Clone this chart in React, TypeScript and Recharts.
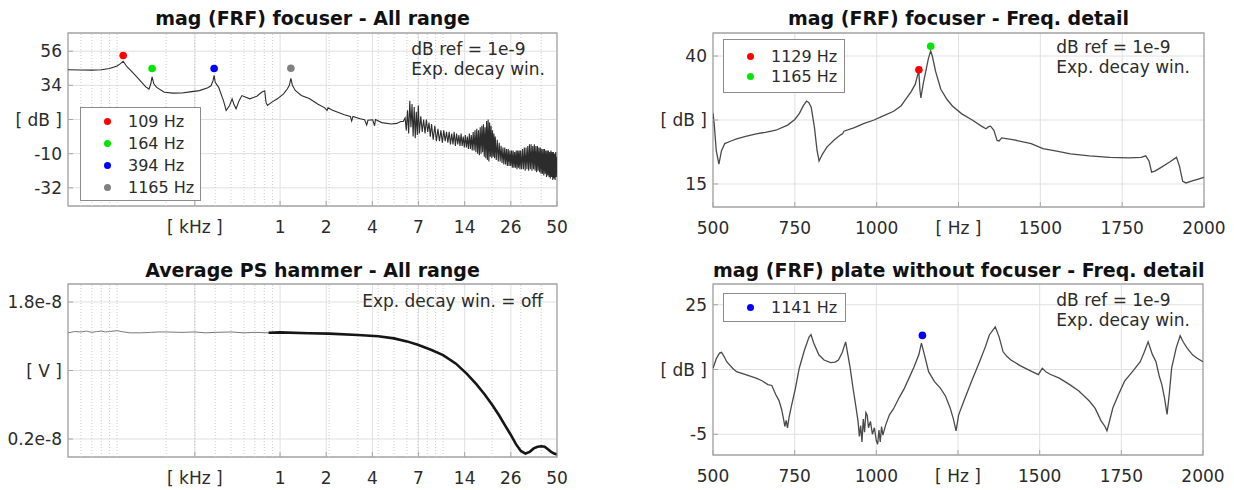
import React from "react";
import {
  CartesianGrid,
  Line,
  LineChart,
  ReferenceArea,
  ReferenceDot,
  ReferenceLine,
  XAxis,
  YAxis,
} from "recharts";

const FONT = '"DejaVu Sans", "Liberation Sans", Arial, sans-serif';
const GRID = "#e0e0e0";
const MINOR = "#cccccc";
const FRAME = "#a6a6a6";
const TEXT = "#2b2b2b";

// log frequency axis (kHz), used by both "All range" panels
const kHzDomain: [number, number] = [0.05, 50];
const kHzTicks = [0.3, 1, 1.919, 3.684, 7.071, 13.57, 26.05, 50];
const kHzLabels = ["[ kHz ]", "1", "2", "4", "7", "14", "26", "50"];
const kHzMinor = [
  0.06, 0.07, 0.08, 0.09, 0.1, 0.2, 0.3, 0.4, 0.5, 0.6, 0.7, 0.8, 0.9,
  2, 3, 4, 5, 6, 7, 8, 9, 10, 20, 30, 40,
];

// linear detail axis (Hz)
const hzDomain: [number, number] = [500, 2000];
const hzTicks = [500, 750, 1000, 1250, 1500, 1750, 2000];
const hzLabels = ["500", "750", "1000", "[ Hz ]", "1500", "1750", "2000"];

// --- mag (FRF) focuser - All range
const tlFreq = [
  0.05, 0.06, 0.07, 0.08, 0.09, 0.1, 0.105, 0.109, 0.115, 0.125, 0.139, 0.15,
  0.157, 0.161, 0.164, 0.168, 0.175, 0.195, 0.22, 0.25, 0.28, 0.32, 0.36, 0.377,
  0.388, 0.394, 0.4, 0.42, 0.45, 0.467, 0.49, 0.508, 0.52, 0.537, 0.56, 0.583,
  0.652, 0.72, 0.771, 0.805, 0.82, 0.837, 0.9, 0.963, 1.05, 1.107, 1.14, 1.165,
  1.19, 1.24, 1.35, 1.51, 1.7, 1.88, 1.94, 1.97, 2.1, 2.48, 2.7, 2.75, 2.8, 3.1,
  3.3, 3.4, 3.46, 3.7, 3.8, 3.85, 4.2, 4.8, 5.2, 5.5,
  5.7, 5.85, 5.95, 6.05, 6.15, 6.25, 6.35, 6.45, 6.55, 6.65, 6.75, 6.85, 6.95,
  7.05, 7.15, 7.3, 7.45, 7.6, 7.75, 7.9, 8.05, 8.2, 8.35, 8.5, 8.7, 8.9, 9.1,
  9.3, 9.5, 9.7, 9.9, 10.1, 10.3, 10.5, 10.7, 10.9, 11.1, 11.3, 11.5, 11.7,
  11.9, 12.1, 12.3, 12.5, 12.7, 12.9, 13.1, 13.3, 13.5, 13.7, 13.9, 14.1, 14.3,
  14.5, 14.7, 14.9, 15.1, 15.3, 15.5, 15.7, 15.9, 16.1, 16.3, 16.5, 16.7, 16.9,
  17.1, 17.3, 17.5, 17.7, 17.9, 18.1, 18.3, 18.5, 18.7, 18.9, 19.1, 19.3, 19.5,
  19.7, 19.9, 20.1, 20.3, 20.5, 20.7, 20.9, 21.2, 21.5, 21.8, 22.1, 22.4, 22.7,
  23.0, 23.3, 23.6, 23.9, 24.2, 24.5, 24.8, 25.1, 25.4, 25.7, 26.0, 26.3, 26.6,
  26.9, 27.2, 27.5, 27.8, 28.1, 28.4, 28.7, 29.0, 29.3, 29.6, 29.9, 30.3, 30.7,
  31.1, 31.5, 31.9, 32.3, 32.7, 33.1, 33.5, 33.9, 34.3, 34.7, 35.1, 35.5, 35.9,
  36.3, 36.7, 37.1, 37.5, 37.9, 38.3, 38.7, 39.1, 39.5, 39.9, 40.3, 40.7, 41.1,
  41.5, 41.9, 42.3, 42.7, 43.1, 43.5, 43.9, 44.3, 44.7, 45.1, 45.5, 45.9, 46.3,
  46.7, 47.1, 47.5, 47.9, 48.3, 48.7, 49.1, 49.5, 50.0,
];
const tlDb = [
  44, 43.9, 43.8, 44, 44.8, 46.5, 48, 49.5, 46, 42.2, 36.9, 33,
  31.6, 35, 39.5, 35, 32.7, 29.5, 29, 29.1, 29.8, 30.6, 32.5, 33.7,
  37, 40.5, 36, 32.7, 24, 17.8, 21, 25.3, 22, 18.9, 24, 27.4,
  25.3, 27, 29.5, 30.5, 23, 21, 23.5, 25.3, 28.5, 31.6, 34, 38.5,
  34, 30.7, 27.5, 25.5, 22, 19.5, 17.8, 19.5, 18, 15, 14, 11, 14, 12.5,
  11.8, 8.5, 11.5, 11.8, 8, 12, 10, 9.1, 9.5, 10.7,
  10.7, 13, 5, 18, 3, 24, 7, 22, 1, 20, 0, 17, 2,
  21, 3, 14, 4, 12, 3, 12, 4, 10, 1, 9, -1, 8, -2,
  6, -2, 5, -3, 5, -2, 4, -3, 4, -4, 3, -4, 4,
  -5, 3, -4, 2, -5, 3, -5, 1, -6, 2, -6, 1, -7,
  3, -7, 2, -8, 4, -8, 5, -9, 6, -10, 5, -11, 7,
  -10, 8, -9, 9, -12, 7, -13, 11, -14, 12, -15, 10, -12,
  8, -13, 5, -12, 3, -13, 1, -14, -1, -15, -3, -15, -5,
  -16, -6, -17, -6, -17, -7, -18, -7, -18, -8, -18, -8, -19,
  -8, -19, -9, -19, -8, -20, -8, -19, -8, -20, -8, -20, -7,
  -20, -6, -21, -6, -20, -5, -21, -4, -20, -4, -21, -5, -20,
  -4, -21, -5, -22, -5, -21, -6, -22, -6, -23, -7, -23, -7,
  -24, -7, -23, -8, -25, -8, -24, -8, -25, -9, -26, -8, -25,
  -9, -27, -9, -26, -10, -27, -9, -25, -12,
];
const tlPeakFreq = [0.109, 0.164, 0.394, 1.165];
const tlPeakDb = [53.2, 44.8, 44.8, 45];
const tlPeakColor = ["#ff0000", "#00e600", "#0000ff", "#808080"];
const tlPeakLabel = ["109 Hz", "164 Hz", "394 Hz", "1165 Hz"];
const tlYTicks = [-32, -10, 12, 34, 56];
const tlYLabels = ["-32", "-10", "[ dB ]", "34", "56"];

// --- mag (FRF) focuser - Freq. detail
const trFreq = [
  500, 504, 510, 518, 526, 536, 555, 572, 600, 632, 660, 692, 728, 750, 764,
  776, 786, 793, 800, 810, 818, 824, 834, 848, 870, 890, 896, 900, 932, 960,
  992, 1020, 1052, 1075, 1088, 1105, 1118, 1126, 1129, 1132, 1135, 1142, 1150,
  1158, 1165, 1170, 1180, 1196, 1215, 1232, 1260, 1292, 1320, 1334, 1342, 1348,
  1358, 1368, 1374, 1382, 1420, 1472, 1508, 1550, 1592, 1650, 1712, 1770, 1808,
  1822, 1832, 1840, 1850, 1868, 1895, 1916, 1925, 1935, 1945, 1964, 1985, 2000,
];
const trDb = [
  28.8, 26.5, 21.5, 18.9, 21.5, 22.9, 23.4, 23.8, 24.3, 24.8, 25.1, 25.5, 26.5, 27.6, 28.8,
  30.3, 31.2, 30.9, 30, 26, 21.5, 19.5, 20.8, 22.2, 23.6, 24.6, 24.8, 25.3, 26, 26.8,
  27.5, 28.3, 29.2, 30.3, 31.5, 33, 34.5, 36.5, 36.8, 33.5, 31.8, 34.5, 37,
  39.5, 41, 40, 37, 33.5, 31.5, 30.2, 28.7, 27.5, 26.3, 25.8, 26.2, 26.3,
  25.5, 23.5, 23.4, 24, 23.6, 22.9, 21.9, 21.4, 20.9, 20.5, 20.2, 20.1, 20.2,
  20.5, 19.5, 17.3, 17.5, 18.2, 19.3, 20.2, 18.5, 15.5, 15.2, 15.6, 16, 16.3,
];
const trPeakFreq = [1129, 1165];
const trPeakDb = [37.3, 41.9];
const trPeakColor = ["#ff0000", "#00e600"];
const trPeakLabel = ["1129 Hz", "1165 Hz"];
const trYTicks = [15, 27.5, 40];
const trYLabels = ["15", "[ dB ]", "40"];

// --- Average PS hammer - All range (values in 1e-8 V)
const blFreq = [
  0.05, 0.055, 0.06, 0.065, 0.07, 0.075, 0.08, 0.085, 0.09, 0.1, 0.11, 0.12,
  0.14, 0.16, 0.18, 0.2, 0.25, 0.3, 0.35, 0.4, 0.5, 0.6, 0.7, 0.85, 1.0, 1.5,
  2.0, 3.0, 4.0, 5.0, 6.0, 7.0, 8.5, 10, 12, 14, 16, 18, 20, 22, 24, 26, 28,
  30, 32, 34, 36, 38, 40, 42, 44, 46, 48, 50,
];
const blV = [
  1.44, 1.455, 1.45, 1.46, 1.445, 1.455, 1.46, 1.45, 1.455, 1.465, 1.45, 1.44,
  1.44, 1.445, 1.45, 1.45, 1.445, 1.45, 1.44, 1.445, 1.45, 1.44, 1.445, 1.44, 1.445, 1.435,
  1.43, 1.415, 1.4, 1.375, 1.34, 1.3, 1.24, 1.18, 1.08, 0.96, 0.84, 0.72, 0.6, 0.48, 0.36, 0.25, 0.14,
  0.06, 0.03, 0.05, 0.09, 0.11, 0.115, 0.11, 0.08, 0.05, 0.03, 0.02,
];
const blYTicks = [0.2, 1.0, 1.8];
const blYLabels = ["0.2e-8", "[ V ]", "1.8e-8"];

// --- mag (FRF) plate without focuser - Freq. detail
const brFreq = [
  500, 510, 520, 526, 534, 542, 560, 572, 600, 632, 650, 668, 680, 692, 702,
  710, 716, 720, 724, 728, 733, 740, 752, 764, 780, 794, 800, 808, 824, 840,
  860, 874, 884, 896, 906, 912, 920, 928, 938, 944, 948, 952, 956, 960, 964,
  968, 972, 976, 982, 988, 994, 1000, 1004, 1008, 1012, 1016, 1020, 1028, 1040,
  1052, 1070, 1085, 1100, 1115, 1130, 1138, 1146, 1160, 1178, 1196, 1212, 1226,
  1236, 1244, 1252, 1268, 1290, 1316, 1334, 1346, 1364, 1376, 1388, 1400, 1412,
  1440, 1472, 1496, 1508, 1520, 1532, 1560, 1592, 1620, 1652, 1670, 1688, 1700,
  1706, 1712, 1724, 1740, 1760, 1784, 1808, 1820, 1832, 1845, 1856, 1866, 1874,
  1882, 1890, 1897, 1904, 1918, 1930, 1940, 1952, 1968, 1982, 2000,
];
const brDb = [
  10.3, 12.5, 13.8, 14, 13, 11.8, 10.3, 9.5, 8.8, 8, 7.4, 6.5, 6.3, 4.2, 2.8,
  0.8, -1.5, -3.2, -1.8, -3.5, -1, 1.5, 5.5, 10.3, 14.5, 17.5, 18.1, 16.2, 13.4, 12.2,
  11.6, 11.7, 12.2, 14, 16.4, 13.8, 10.3, 6, 1.1, -2, -5.5, -3, -6.8, -1.5, -4.5,
  0, -0.6, -3.5, -2, -5, -3.5, -6.5, -7.3, -4, -6.8, -3.2, -5.2, -3, -0.5,
  0.8, 3.5, 5.5, 8, 10.5, 13.4, 16.1, 13.8, 9.5, 7.2, 5.7, 3.8, 1.1,
  -1.5, -4.2, -0.5, 2.7, 7, 11.8, 15.3, 18, 19.9, 17.5, 14.1, 13, 12.2,
  10.9, 9.7, 8.8, 10.3, 9.4, 8.9, 8, 6.5, 5, 2.7, 1, -1.9, -3.2,
  -4.2, -2.5, 1.1, 4, 7.3, 9.5, 11.8, 14, 16.4, 13.5, 11.8, 8.5, 6.5,
  3.5, -0.4, 4.5, 10.3, 15, 17.8, 16.3, 14.9, 13.4, 12.6, 11.8,
];
const brPeakFreq = [1141];
const brPeakDb = [17.9];
const brPeakColor = ["#0000ff"];
const brPeakLabel = ["1141 Hz"];
const brYTicks = [-5, 10, 25];
const brYLabels = ["-5", "[ dB ]", "25"];

type Row = { f: number; v: number; hi?: number | null };

type PanelProps = {
  left: number;
  top: number;
  width: number;
  height: number;
  plotLeft: number;
  plotTop: number;
  plotRight: number;
  plotBottom: number;
  data: Row[];
  logX: boolean;
  yDomain: [number, number];
  yTicks: number[];
  yLabels: string[];
  peakFreq?: number[];
  peakVal?: number[];
  peakColor?: string[];
  lineColor: string;
  lineWidth: number;
  hiWidth?: number;
};

const tickStyle = { fontFamily: FONT, fontSize: 17, fill: TEXT };

function Panel(p: PanelProps) {
  const xTicks = p.logX ? kHzTicks : hzTicks;
  const xLabels = p.logX ? kHzLabels : hzLabels;
  const xDomain = p.logX ? kHzDomain : hzDomain;
  return (
    <div style={{ position: "absolute", left: p.left, top: p.top }}>
      <LineChart
        width={p.width}
        height={p.height}
        data={p.data}
        margin={{ top: p.plotTop, right: p.width - p.plotRight, bottom: 0, left: 0 }}
      >
        <CartesianGrid stroke={GRID} />
        {p.logX &&
          kHzMinor.map((m) => (
            <ReferenceLine key={m} x={m} stroke={MINOR} strokeDasharray="1 2" />
          ))}
        <XAxis
          dataKey="f"
          type="number"
          scale={p.logX ? "log" : "linear"}
          domain={xDomain}
          allowDataOverflow
          ticks={xTicks}
          interval={0}
          tickFormatter={(v) => xLabels[xTicks.indexOf(v)] ?? ""}
          height={p.height - p.plotBottom}
          axisLine={false}
          tickLine={{ stroke: FRAME }}
          tickSize={-5}
          tickMargin={20}
          tick={tickStyle}
        />
        <YAxis
          type="number"
          domain={p.yDomain}
          allowDataOverflow
          ticks={p.yTicks}
          interval={0}
          tickFormatter={(v) => p.yLabels[p.yTicks.indexOf(v)] ?? ""}
          width={p.plotLeft}
          axisLine={false}
          tickLine={{ stroke: FRAME }}
          tickSize={-5}
          tickMargin={11}
          tick={tickStyle}
        />
        <Line
          dataKey="v"
          type="linear"
          stroke={p.lineColor}
          strokeWidth={p.lineWidth}
          dot={false}
          isAnimationActive={false}
        />
        {p.hiWidth && (
          <Line
            dataKey="hi"
            type="linear"
            stroke="#161616"
            strokeWidth={p.hiWidth}
            dot={false}
            isAnimationActive={false}
          />
        )}
        <ReferenceArea
          x1={xDomain[0]}
          x2={xDomain[1]}
          y1={p.yDomain[0]}
          y2={p.yDomain[1]}
          fill="none"
          stroke={FRAME}
          strokeWidth={1.3}
          ifOverflow="visible"
        />
        {(p.peakFreq ?? []).map((f, i) => (
          <ReferenceDot
            key={f}
            x={f}
            y={p.peakVal![i]}
            r={3.8}
            fill={p.peakColor![i]}
            stroke="none"
            ifOverflow="visible"
          />
        ))}
      </LineChart>
    </div>
  );
}

function Title({ left, width, top, text }: { left: number; width: number; top: number; text: string }) {
  return (
    <div
      style={{
        position: "absolute",
        left,
        width,
        top,
        textAlign: "center",
        fontFamily: FONT,
        fontWeight: "bold",
        fontSize: 19,
        lineHeight: "22px",
        color: "#111",
        whiteSpace: "nowrap",
      }}
    >
      {text}
    </div>
  );
}

function Note({ right, top, lines }: { right: number; top: number; lines: string[] }) {
  return (
    <div
      style={{
        position: "absolute",
        right: 1234 - right,
        top,
        fontFamily: FONT,
        fontSize: 17,
        lineHeight: "20px",
        color: TEXT,
        whiteSpace: "nowrap",
      }}
    >
      {lines.map((l) => (
        <div key={l}>{l}</div>
      ))}
    </div>
  );
}

function PeakLegend({
  left,
  top,
  width,
  padTop,
  rowHeight,
  colors,
  labels,
}: {
  left: number;
  top: number;
  width: number;
  padTop: number;
  rowHeight: number;
  colors: string[];
  labels: string[];
}) {
  return (
    <div
      style={{
        position: "absolute",
        left,
        top,
        width,
        boxSizing: "border-box",
        border: "1.3px solid #8c8c8c",
        background: "#fff",
        paddingTop: padTop,
        paddingBottom: padTop,
        fontFamily: FONT,
        fontSize: 16,
        color: TEXT,
      }}
    >
      {labels.map((l, i) => (
        <div key={l} style={{ display: "flex", alignItems: "center", height: rowHeight }}>
          <span
            style={{
              display: "inline-block",
              width: 7,
              height: 7,
              borderRadius: 4,
              background: colors[i],
              marginLeft: 23,
              marginRight: 17,
            }}
          />
          <span>{l}</span>
        </div>
      ))}
    </div>
  );
}

const rows = (freq: number[], vals: number[], hiFrom?: number): Row[] =>
  freq.map((f, i) => ({
    f,
    v: vals[i],
    hi: hiFrom !== undefined && f >= hiFrom ? vals[i] : null,
  }));

export default function App() {
  return (
    <div
      style={{
        position: "absolute",
        left: 0,
        top: 0,
        width: 1234,
        height: 490,
        background: "#fff",
        overflow: "hidden",
      }}
    >
      <Panel
        left={0}
        top={0}
        width={617}
        height={245}
        plotLeft={68}
        plotTop={33}
        plotRight={557}
        plotBottom={206}
        data={rows(tlFreq, tlDb)}
        logX
        yDomain={[-43.7, 67.7]}
        yTicks={tlYTicks}
        yLabels={tlYLabels}
        peakFreq={tlPeakFreq}
        peakVal={tlPeakDb}
        peakColor={tlPeakColor}
        lineColor="#2c2c2c"
        lineWidth={1.1}
      />
      <Panel
        left={617}
        top={0}
        width={617}
        height={245}
        plotLeft={96}
        plotTop={33}
        plotRight={587}
        plotBottom={207}
        data={rows(trFreq, trDb)}
        logX={false}
        yDomain={[10.5, 44.5]}
        yTicks={trYTicks}
        yLabels={trYLabels}
        peakFreq={trPeakFreq}
        peakVal={trPeakDb}
        peakColor={trPeakColor}
        lineColor="#4a4a4a"
        lineWidth={1.3}
      />
      <Panel
        left={0}
        top={245}
        width={617}
        height={245}
        plotLeft={68}
        plotTop={39}
        plotRight={557}
        plotBottom={212}
        data={rows(blFreq, blV, 0.85)}
        logX
        yDomain={[-0.01, 2.01]}
        yTicks={blYTicks}
        yLabels={blYLabels}
        lineColor="#7a7a7a"
        lineWidth={1}
        hiWidth={2.6}
      />
      <Panel
        left={617}
        top={245}
        width={617}
        height={245}
        plotLeft={96}
        plotTop={39}
        plotRight={586}
        plotBottom={210}
        data={rows(brFreq, brDb)}
        logX={false}
        yDomain={[-9.8, 29.8]}
        yTicks={brYTicks}
        yLabels={brYLabels}
        peakFreq={brPeakFreq}
        peakVal={brPeakDb}
        peakColor={brPeakColor}
        lineColor="#4a4a4a"
        lineWidth={1.3}
      />

      <Title left={68} width={489} top={7} text="mag (FRF) focuser - All range" />
      <Title left={713} width={491} top={7} text="mag (FRF) focuser - Freq. detail" />
      <Title left={68} width={489} top={259} text="Average PS hammer - All range" />
      <Title left={713} width={490} top={259} text="mag (FRF) plate without focuser - Freq. detail" />

      <Note right={545} top={39} lines={["dB ref = 1e-9", "Exp. decay win."]} />
      <Note right={1190} top={37} lines={["dB ref = 1e-9", "Exp. decay win."]} />
      <Note right={543} top={291} lines={["Exp. decay win. = off"]} />
      <Note right={1190} top={290} lines={["dB ref = 1e-9", "Exp. decay win."]} />

      <PeakLegend left={80} top={107} width={121} padTop={2} rowHeight={22} colors={tlPeakColor} labels={tlPeakLabel} />
      <PeakLegend left={723} top={39} width={122} padTop={6} rowHeight={20} colors={trPeakColor} labels={trPeakLabel} />
      <PeakLegend left={723} top={293} width={123} padTop={2} rowHeight={23} colors={brPeakColor} labels={brPeakLabel} />
    </div>
  );
}
